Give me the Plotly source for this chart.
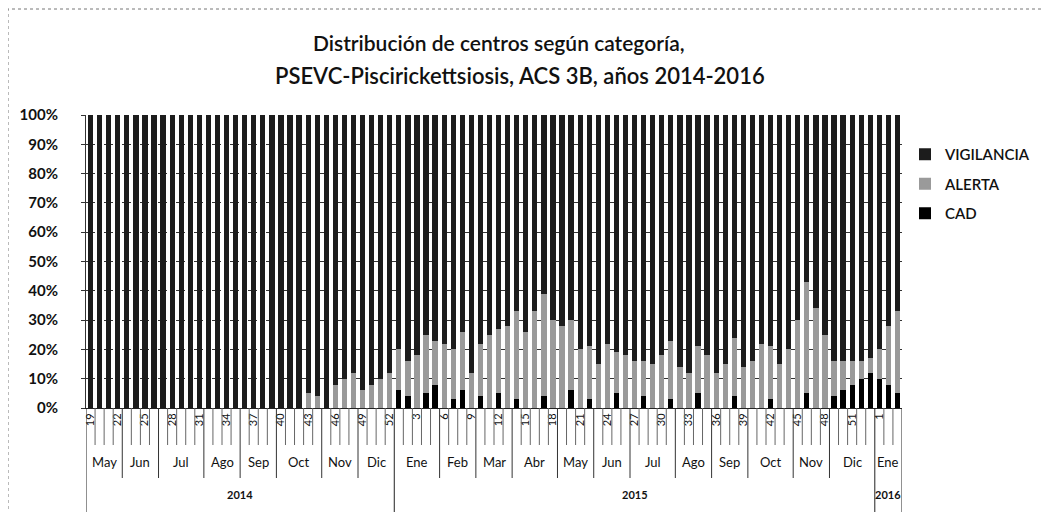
import plotly.graph_objects as go

# ---------------- data ----------------
weeks_2014 = [19, 20, 21, 22, 23, 24, 25, 26, 27, 28, 29, 30, 31, 32, 33, 34, 35,
              36, 37, 38, 39, 40, 41, 42, 43, 44, 45, 46, 47, 48, 49, 50, 51, 52]
weeks_2015 = [1, 2, 3, 4, 5, 6, 7, 8, 9, 10, 11, 12, 13, 14, 15, 16, 17, 18, 19, 20,
              21, 22, 23, 24, 25, 26, 27, 28, 29, 30, 31, 32, 33, 34, 35, 36, 37, 38,
              39, 40, 41, 42, 43, 44, 45, 46, 47, 48, 49, 50, 51, 52, 53]
weeks_2016 = [1, 2, 3]

months_2014 = (["May"] * 4 + ["Jun"] * 4 + ["Jul"] * 5 + ["Ago"] * 4 + ["Sep"] * 4 +
               ["Oct"] * 5 + ["Nov"] * 4 + ["Dic"] * 4)
months_2015 = (["Ene"] * 5 + ["Feb"] * 4 + ["Mar"] * 4 + ["Abr"] * 5 + ["May"] * 4 +
               ["Jun"] * 4 + ["Jul"] * 5 + ["Ago"] * 4 + ["Sep"] * 4 + ["Oct"] * 5 +
               ["Nov"] * 4 + ["Dic"] * 5)
months_2016 = ["Ene"] * 3

years = ["2014"] * len(weeks_2014) + ["2015"] * len(weeks_2015) + ["2016"] * len(weeks_2016)

# percentages per week
cad = [0, 0, 0, 0, 0, 0, 0, 0, 0, 0, 0, 0, 0, 0, 0, 0, 0,
       0, 0, 0, 0, 0, 0, 0, 0, 0, 0, 0, 0, 0, 0, 0, 0, 0,
       6, 4, 0, 5, 8, 0, 3, 6, 0, 4, 0, 5, 0, 3, 0, 0, 4, 0, 0, 6,
       0, 3, 0, 0, 5, 0, 0, 4, 0, 0, 3, 0, 0, 5, 0, 0, 0, 4, 0, 0,
       0, 3, 0, 0, 0, 5, 0, 0, 4, 6, 8, 10, 12,
       10, 8, 5]
alerta = [0, 0, 0, 0, 0, 0, 0, 0, 0, 0, 0, 0, 0, 0, 0, 0, 0,
          0, 0, 0, 0, 0, 0, 0, 5, 4, 0, 8, 10, 12, 6, 8, 10, 12,
          14, 12, 18, 20, 15, 22, 17, 20, 12, 18, 25, 22, 28, 30, 26, 33, 35, 30, 28, 24,
          20, 18, 15, 22, 14, 18, 16, 12, 15, 18, 20, 14, 12, 16, 18, 12, 15, 20, 14, 16,
          22, 18, 15, 20, 30, 38, 34, 25, 12, 10, 8, 6, 5,
          10, 20, 28]
vigilancia = [100, 100, 100, 100, 100, 100, 100, 100, 100, 100, 100, 100, 100, 100, 100, 100, 100,
              100, 100, 100, 100, 100, 100, 100, 95, 96, 100, 92, 90, 88, 94, 92, 90, 88,
              80, 84, 82, 75, 77, 78, 80, 74, 88, 78, 75, 73, 72, 67, 74, 67, 61, 70, 72, 70,
              80, 79, 85, 78, 81, 82, 84, 84, 85, 82, 77, 86, 88, 79, 82, 88, 85, 76, 86, 84,
              78, 79, 85, 80, 70, 57, 66, 75, 84, 84, 84, 84, 83,
              80, 72, 67]

series_names = ["CAD", "ALERTA", "VIGILANCIA"]
series_colors = ["#000000", "#9a9a9a", "#1c1c1c"]
legend_ranks = [3, 2, 1]

# ---------------- build ----------------
week_labels = weeks_2014 + weeks_2015 + weeks_2016
month_labels = months_2014 + months_2015 + months_2016
n = len(week_labels)
xs = list(range(n))

fig = go.Figure()
for name, vals, col, rk in zip(series_names, [cad, alerta, vigilancia], series_colors, legend_ranks):
    fig.add_trace(go.Bar(x=xs, y=vals, name=name, legendgroup=name, legendrank=rk,
                         marker=dict(color=col, line=dict(width=0))))

# the page body adds an 8px offset; all reference pixel positions are shifted by it
OFF = 8
W, H = 1050 - OFF, 512 - OFF
plot_left, plot_right, plot_top, plot_bottom = 86, 902, 115, 408  # reference pixels
L = plot_left - OFF
R = W - (plot_right - OFF)
T = plot_top - OFF
B = H - (plot_bottom - OFF)
PH = H - T - B
PW = W - L - R

def py(pix):  # reference pixel y -> paper y
    return (plot_bottom - pix) / PH

def px(pix):  # reference pixel x -> paper x
    return (pix - plot_left) / PW

shapes = []
annotations = []

def runs(labels):
    out = []
    start = 0
    for i in range(1, n + 1):
        if i == n or labels[i] != labels[start]:
            out.append((start, i - 1, labels[start]))
            start = i
    return out

month_keys = [y + m for y, m in zip(years, month_labels)]
month_runs = runs(month_keys)
year_runs = runs(years)
month_bounds = {r[0] for r in month_runs} | {n}
year_bounds = {r[0] for r in year_runs} | {n}

for b in range(n + 1):
    if b in year_bounds:
        y1 = py(512)
        col = "#222222"
    elif b in month_bounds:
        y1 = py(478)
        col = "#333333"
    else:
        y1 = py(445)
        col = "#666666"
    shapes.append(dict(type="line", xref="x", yref="paper", x0=b - 0.5, x1=b - 0.5,
                       y0=0, y1=y1, line=dict(color=col, width=1)))

for s, e, key in month_runs:
    annotations.append(dict(x=(s + e) / 2, y=py(462), xref="x", yref="paper",
                            text=month_labels[s], showarrow=False,
                            font=dict(size=13, color="#111111", family="Lato"),
                            yanchor="middle"))
for s, e, key in year_runs:
    annotations.append(dict(x=(s + e) / 2, y=py(494), xref="x", yref="paper",
                            text=key, showarrow=False,
                            font=dict(size=11, color="#111111", family="Lato", weight=700),
                            yanchor="middle"))

# title (two lines)
annotations.append(dict(x=px(499), y=py(42), xref="paper", yref="paper",
                        text="Distribución de centros según categoría,", showarrow=False,
                        xanchor="center", yanchor="middle",
                        font=dict(family="Lato", size=21, color="#111111", weight=600)))
annotations.append(dict(x=px(520), y=py(75), xref="paper", yref="paper",
                        text="PSEVC-Piscirickettsiosis, ACS 3B, años 2014-2016", showarrow=False,
                        xanchor="center", yanchor="middle",
                        font=dict(family="Lato", size=22, color="#111111", weight=600)))

# outer chart frame
shapes.append(dict(type="rect", xref="paper", yref="paper",
                   x0=px(8), x1=px(1046), y0=py(520), y1=py(9),
                   line=dict(color="#777777", width=1, dash="dot")))

fig.update_layout(
    width=W, height=H,
    margin=dict(l=L, r=R, t=T, b=B, autoexpand=False),
    paper_bgcolor="white", plot_bgcolor="white",
    barmode="stack", bargap=0.42,
    legend=dict(x=px(905), y=py(138), xanchor="left", yanchor="top",
                traceorder="grouped",
                font=dict(family="Lato", size=15, color="#111111", weight=600),
                tracegroupgap=7, itemwidth=30),
    shapes=shapes, annotations=annotations,
    font=dict(family="Lato", color="#111111"),
)
fig.update_xaxes(range=[-0.5, n - 0.5], tickmode="array", tickvals=xs[::3],
                 ticktext=[str(w) for w in week_labels[::3]], tickangle=-90,
                 tickfont=dict(size=11, family="Lato", color="#111111"),
                 showline=True, linecolor="#222222", linewidth=1, ticks="",
                 showgrid=False, zeroline=False, automargin=False)
fig.update_yaxes(range=[0, 100], dtick=10, ticksuffix="%",
                 tickfont=dict(size=15, family="Lato", color="#111111", weight=700),
                 showgrid=True, gridcolor="#333333", griddash="dash", gridwidth=1,
                 showline=True, linecolor="#333333", linewidth=1,
                 ticks="outside", ticklen=4, tickcolor="#333333", zeroline=False,
                 ticklabelstandoff=20, automargin=False)

fig.write_html("out.html")
